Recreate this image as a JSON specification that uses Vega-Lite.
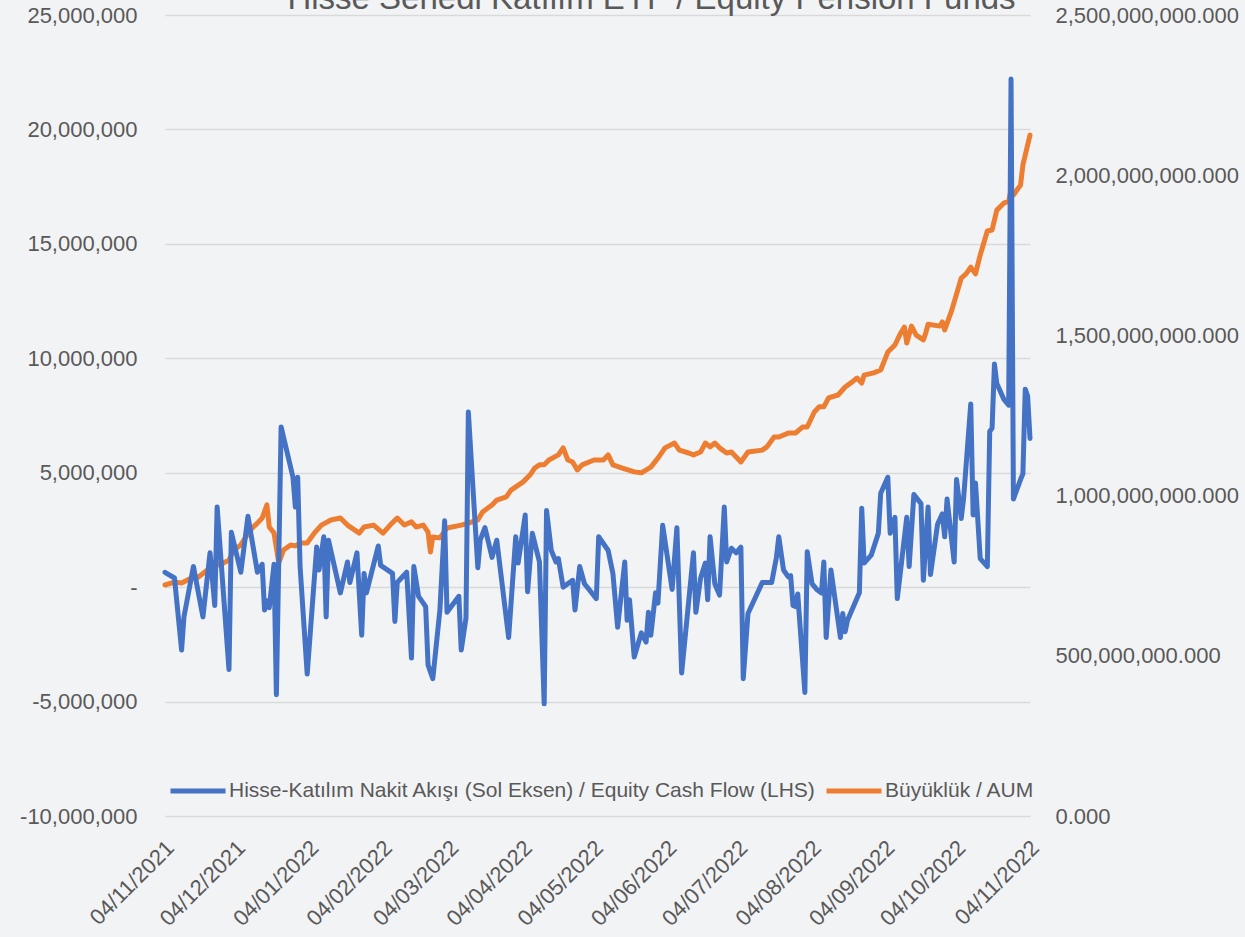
{
  "$schema": "https://vega.github.io/schema/vega-lite/v6.json",
  "width": 865,
  "height": 801,
  "autosize": {"type": "none"},
  "padding": {"left": 165, "top": 15, "right": 215, "bottom": 121},
  "background": "#f2f3f5",
  "config": {"view": {"stroke": null}, "font": "Liberation Sans"},
  "title": {"text": "Hisse Senedi Katılım EYF / Equity Pension Funds", "fontSize": 33, "fontWeight": "normal", "color": "#595959", "anchor": "middle", "frame": "group", "baseline": "alphabetic", "offset": -38, "dx": 54},
  "datasets": {
    "flow": [
      {"date": "2021-11-04", "flow": 650000}, {"date": "2021-11-08", "flow": 400000}, {"date": "2021-11-11", "flow": -2750000}, {"date": "2021-11-12", "flow": -1300000},
      {"date": "2021-11-16", "flow": 900000}, {"date": "2021-11-20", "flow": -1300000}, {"date": "2021-11-23", "flow": 1500000}, {"date": "2021-11-25", "flow": -800000},
      {"date": "2021-11-26", "flow": 3500000}, {"date": "2021-12-01", "flow": -3600000}, {"date": "2021-12-02", "flow": 2400000}, {"date": "2021-12-06", "flow": 650000},
      {"date": "2021-12-09", "flow": 3100000}, {"date": "2021-12-13", "flow": 650000}, {"date": "2021-12-15", "flow": 1000000}, {"date": "2021-12-16", "flow": -1000000},
      {"date": "2021-12-17", "flow": -600000}, {"date": "2021-12-18", "flow": -900000}, {"date": "2021-12-20", "flow": 1000000}, {"date": "2021-12-21", "flow": -4700000},
      {"date": "2021-12-23", "flow": 7000000}, {"date": "2021-12-28", "flow": 4800000}, {"date": "2021-12-29", "flow": 3500000}, {"date": "2021-12-30", "flow": 4800000},
      {"date": "2021-12-31", "flow": 900000}, {"date": "2022-01-03", "flow": -3800000}, {"date": "2022-01-07", "flow": 1750000}, {"date": "2022-01-08", "flow": 750000},
      {"date": "2022-01-10", "flow": 2200000}, {"date": "2022-01-11", "flow": -1300000}, {"date": "2022-01-12", "flow": 2050000}, {"date": "2022-01-17", "flow": -250000},
      {"date": "2022-01-20", "flow": 1100000}, {"date": "2022-01-21", "flow": 200000}, {"date": "2022-01-24", "flow": 1500000}, {"date": "2022-01-26", "flow": -2100000},
      {"date": "2022-01-27", "flow": 600000}, {"date": "2022-01-28", "flow": -250000}, {"date": "2022-02-02", "flow": 1800000}, {"date": "2022-02-03", "flow": 950000},
      {"date": "2022-02-08", "flow": 600000}, {"date": "2022-02-09", "flow": -1500000}, {"date": "2022-02-10", "flow": 200000}, {"date": "2022-02-14", "flow": 650000},
      {"date": "2022-02-16", "flow": -3100000}, {"date": "2022-02-17", "flow": 900000}, {"date": "2022-02-19", "flow": -400000}, {"date": "2022-02-22", "flow": -850000},
      {"date": "2022-02-23", "flow": -3400000}, {"date": "2022-02-25", "flow": -4000000}, {"date": "2022-02-28", "flow": -1000000}, {"date": "2022-03-02", "flow": 2900000},
      {"date": "2022-03-03", "flow": -1100000}, {"date": "2022-03-08", "flow": -400000}, {"date": "2022-03-09", "flow": -2750000}, {"date": "2022-03-11", "flow": -1350000},
      {"date": "2022-03-12", "flow": 7650000}, {"date": "2022-03-16", "flow": 850000}, {"date": "2022-03-17", "flow": 2050000}, {"date": "2022-03-19", "flow": 2600000},
      {"date": "2022-03-22", "flow": 1300000}, {"date": "2022-03-24", "flow": 2050000}, {"date": "2022-03-29", "flow": -2200000}, {"date": "2022-04-01", "flow": 2200000},
      {"date": "2022-04-02", "flow": 1050000}, {"date": "2022-04-05", "flow": 3150000}, {"date": "2022-04-06", "flow": -200000}, {"date": "2022-04-08", "flow": 2350000},
      {"date": "2022-04-11", "flow": 1100000}, {"date": "2022-04-13", "flow": -5100000}, {"date": "2022-04-14", "flow": 3350000}, {"date": "2022-04-16", "flow": 1600000},
      {"date": "2022-04-18", "flow": 1100000}, {"date": "2022-04-19", "flow": 1250000}, {"date": "2022-04-21", "flow": 0}, {"date": "2022-04-25", "flow": 300000},
      {"date": "2022-04-26", "flow": -1000000}, {"date": "2022-04-28", "flow": 900000}, {"date": "2022-04-30", "flow": 150000}, {"date": "2022-05-05", "flow": -500000},
      {"date": "2022-05-06", "flow": 2200000}, {"date": "2022-05-10", "flow": 1600000}, {"date": "2022-05-12", "flow": 600000}, {"date": "2022-05-14", "flow": -1750000},
      {"date": "2022-05-17", "flow": 1100000}, {"date": "2022-05-18", "flow": -1450000}, {"date": "2022-05-19", "flow": -550000}, {"date": "2022-05-21", "flow": -3050000},
      {"date": "2022-05-24", "flow": -2000000}, {"date": "2022-05-26", "flow": -2400000}, {"date": "2022-05-27", "flow": -1100000}, {"date": "2022-05-28", "flow": -2100000},
      {"date": "2022-05-30", "flow": -250000}, {"date": "2022-05-31", "flow": -700000}, {"date": "2022-06-02", "flow": 2700000}, {"date": "2022-06-06", "flow": -100000},
      {"date": "2022-06-08", "flow": 2600000}, {"date": "2022-06-10", "flow": -3750000}, {"date": "2022-06-15", "flow": 1500000}, {"date": "2022-06-16", "flow": -1100000},
      {"date": "2022-06-18", "flow": 400000}, {"date": "2022-06-20", "flow": 1050000}, {"date": "2022-06-21", "flow": -550000}, {"date": "2022-06-22", "flow": 2200000},
      {"date": "2022-06-24", "flow": 150000}, {"date": "2022-06-26", "flow": -350000}, {"date": "2022-06-28", "flow": 3500000}, {"date": "2022-06-29", "flow": 1100000},
      {"date": "2022-07-01", "flow": 1700000}, {"date": "2022-07-03", "flow": 1500000}, {"date": "2022-07-05", "flow": 1750000}, {"date": "2022-07-06", "flow": -4000000},
      {"date": "2022-07-08", "flow": -1150000}, {"date": "2022-07-14", "flow": 200000}, {"date": "2022-07-18", "flow": 200000}, {"date": "2022-07-20", "flow": 1300000},
      {"date": "2022-07-21", "flow": 2200000}, {"date": "2022-07-23", "flow": 750000}, {"date": "2022-07-25", "flow": 450000}, {"date": "2022-07-26", "flow": 500000},
      {"date": "2022-07-27", "flow": -800000}, {"date": "2022-07-28", "flow": -850000}, {"date": "2022-07-29", "flow": -300000}, {"date": "2022-08-01", "flow": -4600000},
      {"date": "2022-08-02", "flow": 1550000}, {"date": "2022-08-04", "flow": 150000}, {"date": "2022-08-06", "flow": -100000}, {"date": "2022-08-08", "flow": -250000},
      {"date": "2022-08-09", "flow": 1100000}, {"date": "2022-08-10", "flow": -2200000}, {"date": "2022-08-12", "flow": 750000}, {"date": "2022-08-16", "flow": -2200000},
      {"date": "2022-08-17", "flow": -1150000}, {"date": "2022-08-18", "flow": -1950000}, {"date": "2022-08-19", "flow": -1450000}, {"date": "2022-08-24", "flow": -250000},
      {"date": "2022-08-25", "flow": 3450000}, {"date": "2022-08-26", "flow": 1050000}, {"date": "2022-08-29", "flow": 1400000}, {"date": "2022-09-01", "flow": 2350000},
      {"date": "2022-09-02", "flow": 4100000}, {"date": "2022-09-05", "flow": 4800000}, {"date": "2022-09-06", "flow": 2350000}, {"date": "2022-09-08", "flow": 3050000},
      {"date": "2022-09-09", "flow": -500000}, {"date": "2022-09-13", "flow": 3050000}, {"date": "2022-09-14", "flow": 900000}, {"date": "2022-09-16", "flow": 4050000},
      {"date": "2022-09-19", "flow": 3650000}, {"date": "2022-09-20", "flow": 300000}, {"date": "2022-09-22", "flow": 3500000}, {"date": "2022-09-23", "flow": 550000},
      {"date": "2022-09-26", "flow": 2750000}, {"date": "2022-09-28", "flow": 3200000}, {"date": "2022-09-29", "flow": 2200000}, {"date": "2022-09-30", "flow": 3850000},
      {"date": "2022-10-03", "flow": 1100000}, {"date": "2022-10-04", "flow": 4700000}, {"date": "2022-10-06", "flow": 3000000}, {"date": "2022-10-07", "flow": 3900000},
      {"date": "2022-10-10", "flow": 8000000}, {"date": "2022-10-11", "flow": 3150000}, {"date": "2022-10-12", "flow": 4550000}, {"date": "2022-10-14", "flow": 1250000},
      {"date": "2022-10-17", "flow": 900000}, {"date": "2022-10-18", "flow": 6800000}, {"date": "2022-10-19", "flow": 6950000}, {"date": "2022-10-20", "flow": 9750000},
      {"date": "2022-10-21", "flow": 8900000}, {"date": "2022-10-24", "flow": 8200000}, {"date": "2022-10-26", "flow": 7950000}, {"date": "2022-10-27", "flow": 22200000},
      {"date": "2022-10-28", "flow": 3850000}, {"date": "2022-10-31", "flow": 4700000}, {"date": "2022-11-01", "flow": 4950000}, {"date": "2022-11-02", "flow": 8650000},
      {"date": "2022-11-03", "flow": 8350000}, {"date": "2022-11-04", "flow": 6500000}
    ],
    "aum": [
      {"date": "2021-11-04", "aum": 7.21e8}, {"date": "2021-11-08", "aum": 7.30e8}, {"date": "2021-11-11", "aum": 7.27e8}, {"date": "2021-11-16", "aum": 7.46e8},
      {"date": "2021-11-17", "aum": 7.40e8}, {"date": "2021-11-23", "aum": 7.74e8}, {"date": "2021-11-25", "aum": 7.93e8}, {"date": "2021-11-27", "aum": 7.83e8},
      {"date": "2021-12-01", "aum": 7.99e8}, {"date": "2021-12-03", "aum": 8.30e8}, {"date": "2021-12-06", "aum": 8.46e8}, {"date": "2021-12-10", "aum": 8.93e8},
      {"date": "2021-12-13", "aum": 9.14e8}, {"date": "2021-12-15", "aum": 9.30e8}, {"date": "2021-12-17", "aum": 9.71e8}, {"date": "2021-12-18", "aum": 9.02e8},
      {"date": "2021-12-20", "aum": 8.83e8}, {"date": "2021-12-22", "aum": 7.90e8}, {"date": "2021-12-24", "aum": 8.30e8}, {"date": "2021-12-27", "aum": 8.46e8},
      {"date": "2021-12-29", "aum": 8.43e8}, {"date": "2021-12-31", "aum": 8.52e8}, {"date": "2022-01-03", "aum": 8.52e8}, {"date": "2022-01-06", "aum": 8.83e8},
      {"date": "2022-01-09", "aum": 9.08e8}, {"date": "2022-01-13", "aum": 9.24e8}, {"date": "2022-01-17", "aum": 9.30e8}, {"date": "2022-01-20", "aum": 9.08e8},
      {"date": "2022-01-25", "aum": 8.83e8}, {"date": "2022-01-27", "aum": 9.02e8}, {"date": "2022-01-31", "aum": 9.08e8}, {"date": "2022-02-04", "aum": 8.83e8},
      {"date": "2022-02-07", "aum": 9.08e8}, {"date": "2022-02-10", "aum": 9.30e8}, {"date": "2022-02-13", "aum": 9.08e8}, {"date": "2022-02-16", "aum": 9.18e8},
      {"date": "2022-02-18", "aum": 9.02e8}, {"date": "2022-02-21", "aum": 9.08e8}, {"date": "2022-02-23", "aum": 8.86e8}, {"date": "2022-02-24", "aum": 8.24e8},
      {"date": "2022-02-25", "aum": 8.71e8}, {"date": "2022-02-28", "aum": 8.68e8}, {"date": "2022-03-03", "aum": 8.99e8}, {"date": "2022-03-09", "aum": 9.08e8},
      {"date": "2022-03-12", "aum": 9.14e8}, {"date": "2022-03-16", "aum": 9.24e8}, {"date": "2022-03-18", "aum": 9.49e8}, {"date": "2022-03-22", "aum": 9.71e8},
      {"date": "2022-03-24", "aum": 9.86e8}, {"date": "2022-03-28", "aum": 9.96e8}, {"date": "2022-03-30", "aum": 1.017e9}, {"date": "2022-04-04", "aum": 1.042e9},
      {"date": "2022-04-07", "aum": 1.064e9}, {"date": "2022-04-09", "aum": 1.086e9}, {"date": "2022-04-11", "aum": 1.096e9}, {"date": "2022-04-13", "aum": 1.096e9},
      {"date": "2022-04-15", "aum": 1.111e9}, {"date": "2022-04-19", "aum": 1.127e9}, {"date": "2022-04-21", "aum": 1.149e9}, {"date": "2022-04-23", "aum": 1.111e9},
      {"date": "2022-04-25", "aum": 1.105e9}, {"date": "2022-04-27", "aum": 1.080e9}, {"date": "2022-04-29", "aum": 1.096e9}, {"date": "2022-05-04", "aum": 1.111e9},
      {"date": "2022-05-08", "aum": 1.111e9}, {"date": "2022-05-10", "aum": 1.127e9}, {"date": "2022-05-12", "aum": 1.096e9}, {"date": "2022-05-16", "aum": 1.086e9},
      {"date": "2022-05-21", "aum": 1.074e9}, {"date": "2022-05-24", "aum": 1.071e9}, {"date": "2022-05-28", "aum": 1.089e9}, {"date": "2022-05-31", "aum": 1.117e9},
      {"date": "2022-06-03", "aum": 1.149e9}, {"date": "2022-06-07", "aum": 1.164e9}, {"date": "2022-06-09", "aum": 1.142e9}, {"date": "2022-06-13", "aum": 1.133e9},
      {"date": "2022-06-15", "aum": 1.127e9}, {"date": "2022-06-18", "aum": 1.136e9}, {"date": "2022-06-20", "aum": 1.164e9}, {"date": "2022-06-22", "aum": 1.152e9},
      {"date": "2022-06-24", "aum": 1.164e9}, {"date": "2022-06-26", "aum": 1.149e9}, {"date": "2022-06-29", "aum": 1.133e9}, {"date": "2022-07-01", "aum": 1.136e9},
      {"date": "2022-07-05", "aum": 1.105e9}, {"date": "2022-07-08", "aum": 1.136e9}, {"date": "2022-07-14", "aum": 1.142e9}, {"date": "2022-07-16", "aum": 1.152e9},
      {"date": "2022-07-19", "aum": 1.183e9}, {"date": "2022-07-21", "aum": 1.183e9}, {"date": "2022-07-25", "aum": 1.195e9}, {"date": "2022-07-28", "aum": 1.195e9},
      {"date": "2022-07-31", "aum": 1.214e9}, {"date": "2022-08-02", "aum": 1.214e9}, {"date": "2022-08-05", "aum": 1.261e9}, {"date": "2022-08-07", "aum": 1.277e9},
      {"date": "2022-08-09", "aum": 1.277e9}, {"date": "2022-08-11", "aum": 1.305e9}, {"date": "2022-08-15", "aum": 1.314e9}, {"date": "2022-08-18", "aum": 1.339e9},
      {"date": "2022-08-21", "aum": 1.355e9}, {"date": "2022-08-23", "aum": 1.367e9}, {"date": "2022-08-25", "aum": 1.351e9}, {"date": "2022-08-26", "aum": 1.376e9},
      {"date": "2022-08-30", "aum": 1.383e9}, {"date": "2022-09-02", "aum": 1.392e9}, {"date": "2022-09-04", "aum": 1.429e9}, {"date": "2022-09-05", "aum": 1.448e9},
      {"date": "2022-09-08", "aum": 1.470e9}, {"date": "2022-09-10", "aum": 1.501e9}, {"date": "2022-09-12", "aum": 1.526e9}, {"date": "2022-09-13", "aum": 1.476e9},
      {"date": "2022-09-15", "aum": 1.529e9}, {"date": "2022-09-17", "aum": 1.501e9}, {"date": "2022-09-20", "aum": 1.486e9}, {"date": "2022-09-21", "aum": 1.507e9},
      {"date": "2022-09-22", "aum": 1.535e9}, {"date": "2022-09-27", "aum": 1.529e9}, {"date": "2022-09-28", "aum": 1.542e9}, {"date": "2022-09-29", "aum": 1.517e9},
      {"date": "2022-10-02", "aum": 1.579e9}, {"date": "2022-10-06", "aum": 1.679e9}, {"date": "2022-10-08", "aum": 1.692e9}, {"date": "2022-10-10", "aum": 1.713e9},
      {"date": "2022-10-12", "aum": 1.692e9}, {"date": "2022-10-14", "aum": 1.751e9}, {"date": "2022-10-17", "aum": 1.826e9}, {"date": "2022-10-19", "aum": 1.829e9},
      {"date": "2022-10-21", "aum": 1.891e9}, {"date": "2022-10-24", "aum": 1.913e9}, {"date": "2022-10-26", "aum": 1.919e9}, {"date": "2022-10-27", "aum": 1.954e9},
      {"date": "2022-10-28", "aum": 1.938e9}, {"date": "2022-10-31", "aum": 1.969e9}, {"date": "2022-11-01", "aum": 2.032e9}, {"date": "2022-11-02", "aum": 2.063e9},
      {"date": "2022-11-04", "aum": 2.125e9}
    ]
  },
  "layer": [
    {
      "data": {"name": "aum"},
      "mark": {"type": "line", "strokeWidth": 5, "strokeCap": "round", "strokeJoin": "round"},
      "encoding": {
        "x": {
          "field": "date", "type": "temporal",
          "scale": {"type": "utc", "domain": [{"year": 2021, "month": 11, "date": 4, "utc": true}, {"year": 2022, "month": 11, "date": 4, "utc": true}], "nice": false},
          "axis": {
            "title": null, "grid": false, "ticks": false, "domain": false,
            "labelExpr": "utcFormat(datum.value, '%d/%m/%Y')",
            "values": [
              {"year": 2021, "month": 11, "date": 4, "utc": true}, {"year": 2021, "month": 12, "date": 4, "utc": true},
              {"year": 2022, "month": 1, "date": 4, "utc": true}, {"year": 2022, "month": 2, "date": 4, "utc": true},
              {"year": 2022, "month": 3, "date": 4, "utc": true}, {"year": 2022, "month": 4, "date": 4, "utc": true},
              {"year": 2022, "month": 5, "date": 4, "utc": true}, {"year": 2022, "month": 6, "date": 4, "utc": true},
              {"year": 2022, "month": 7, "date": 4, "utc": true}, {"year": 2022, "month": 8, "date": 4, "utc": true},
              {"year": 2022, "month": 9, "date": 4, "utc": true}, {"year": 2022, "month": 10, "date": 4, "utc": true},
              {"year": 2022, "month": 11, "date": 4, "utc": true}
            ],
            "labelAngle": -45, "labelAlign": "right", "labelBaseline": "middle",
            "labelPadding": 28, "labelOffset": 5, "labelFontSize": 22, "labelColor": "#595959",
            "labelOverlap": false, "labelFlush": false, "labelBound": false
          }
        },
        "y": {
          "field": "aum", "type": "quantitative",
          "scale": {"domain": [0, 2500000000], "nice": false, "zero": true},
          "axis": {
            "orient": "right", "title": null, "grid": false, "ticks": false, "domain": false,
            "values": [0, 500000000, 1000000000, 1500000000, 2000000000, 2500000000],
            "format": ",.3f", "labelPadding": 25, "labelFontSize": 22, "labelColor": "#595959", "labelLimit": 400
          }
        },
        "color": {
          "datum": "Büyüklük / AUM",
          "scale": {"domain": ["Hisse-Katılım Nakit Akışı (Sol Eksen) / Equity Cash Flow (LHS)", "Büyüklük / AUM"], "range": ["#4472c4", "#ed7d31"]},
          "legend": {
            "title": null, "orient": "none", "direction": "horizontal", "legendX": 3, "legendY": 746,
            "symbolType": "stroke", "symbolSize": 3025, "symbolStrokeWidth": 5,
            "labelFontSize": 21, "labelColor": "#595959", "labelOffset": 1, "labelLimit": 1000,
            "columnPadding": 0, "padding": 0
          }
        }
      }
    },
    {
      "data": {"name": "flow"},
      "mark": {"type": "line", "strokeWidth": 5, "strokeCap": "round", "strokeJoin": "round"},
      "encoding": {
        "x": {"field": "date", "type": "temporal"},
        "y": {
          "field": "flow", "type": "quantitative",
          "scale": {"domain": [-10000000, 25000000], "nice": false, "zero": false},
          "axis": {
            "orient": "left", "title": null, "ticks": false, "domain": false,
            "grid": true, "gridColor": "#d9d9d9", "gridWidth": 1.5,
            "values": [-10000000, -5000000, 0, 5000000, 10000000, 15000000, 20000000, 25000000],
            "labelExpr": "datum.value === 0 ? '-' : replace(format(datum.value, ','), '\u2212', '-')",
            "labelPadding": 28, "labelFontSize": 22, "labelColor": "#595959"
          }
        },
        "color": {"datum": "Hisse-Katılım Nakit Akışı (Sol Eksen) / Equity Cash Flow (LHS)"}
      }
    }
  ],
  "resolve": {"scale": {"y": "independent"}, "axis": {"y": "independent"}}
}
